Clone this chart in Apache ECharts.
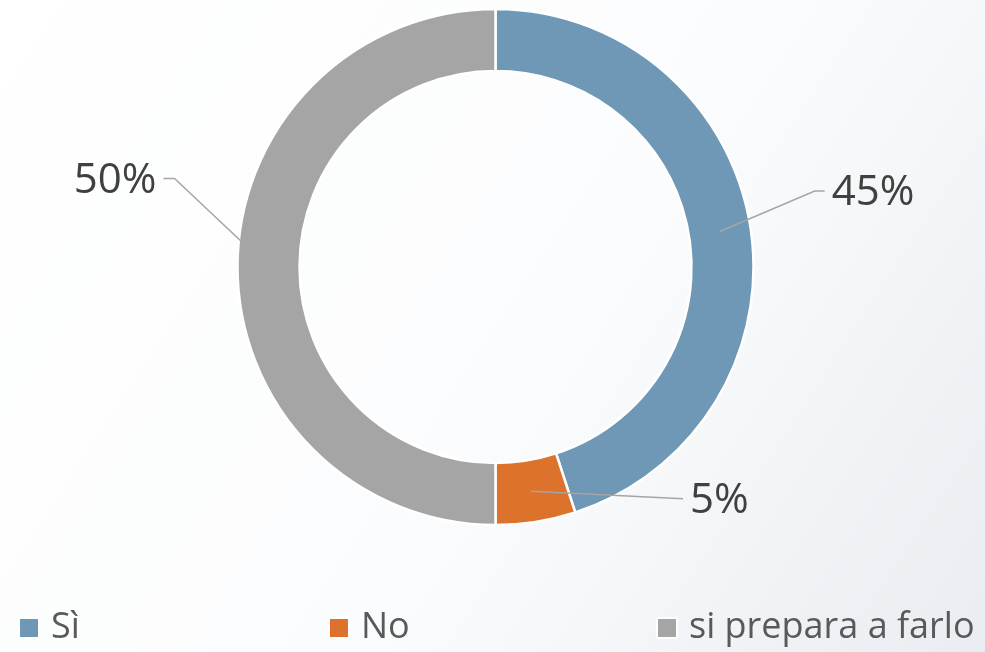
<!DOCTYPE html>
<html>
<head>
<meta charset="utf-8">
<script src="https://cdn.jsdelivr.net/npm/echarts@6/dist/echarts.min.js"></script>
<style>
  html, body { margin: 0; padding: 0; background: #fff; }
  #chart { width: 985px; height: 652px; }
</style>
</head>
<body>
<div id="chart"></div>
<script>
const categories = ['Sì', 'No', 'si prepara a farlo'];
const shares = [45, 5, 50];
const colors = ['#6e98b6', '#dd722c', '#a5a5a5'];

// label placement relative to the leader line start (mid-ring): dx, dy, align, flat tail
const labelOffsets = [
  [112, -38, 'left', 10],
  [159, 10, 'left', 0],
  [-112, -86, 'right', 11]
];
const legendLefts = [18, 328, 656];

const chart = echarts.init(document.getElementById('chart'));

const legends = categories.map((name, i) => ({
  data: [{ name, itemStyle: { color: colors[i] } }],
  left: legendLefts[i],
  bottom: 6,
  padding: 0,
  itemWidth: 20,
  itemHeight: 20,
  icon: 'rect',
  selectedMode: false,
  textStyle: {
    fontFamily: 'Open Sans',
    fontSize: 36,
    color: '#595959',
    padding: [0, 0, 0, 7]
  }
}));

const ring = {
  type: 'pie',
  center: [495.5, 267],
  radius: [196, 258],
  startAngle: 90,
  clockwise: true,
  silent: true
};

chart.setOption({
  backgroundColor: {
    type: 'linear', x: 0, y: 0, x2: 1, y2: 1,
    colorStops: [
      { offset: 0, color: '#ffffff' },
      { offset: 0.55, color: '#fbfcfd' },
      { offset: 1, color: '#e9edf1' }
    ]
  },
  animation: false,
  legend: legends,
  series: [
    Object.assign({}, ring, {
      itemStyle: { borderColor: '#fff', borderWidth: 2.5 },
      label: { show: false },
      labelLine: { show: false },
      data: categories.map((name, i) => ({
        name,
        value: shares[i],
        itemStyle: { color: colors[i] }
      }))
    }),
    // same ring, invisible, drawn on top so the leader lines cross the segments
    Object.assign({}, ring, {
      z: 3,
      itemStyle: { color: 'rgba(0,0,0,0)' },
      label: {
        show: true,
        position: 'outside',
        formatter: p => p.value + '%',
        fontFamily: 'Open Sans',
        fontSize: 42,
        color: '#404040'
      },
      labelLine: {
        show: true,
        lineStyle: { color: '#a5a5a5', width: 1.5 }
      },
      labelLayout: params => {
        const lay = chart.getModel().getSeriesByIndex(1).getData().getItemLayout(params.dataIndex);
        const mid = (lay.startAngle + lay.endAngle) / 2;
        const rMid = (lay.r + lay.r0) / 2;
        const start = [lay.cx + rMid * Math.cos(mid), lay.cy + rMid * Math.sin(mid)];
        const [dx, dy, align, flat] = labelOffsets[params.dataIndex];
        const x = start[0] + dx;
        const y = start[1] + dy;
        const endX = align === 'left' ? x - 7 : x + 7;
        const bendX = align === 'left' ? endX - flat : endX + flat;
        return {
          x, y, align, verticalAlign: 'middle',
          labelLinePoints: [start, [bendX, y - 2.5], [endX, y - 2.5]]
        };
      },
      data: categories.map((name, i) => ({ name, value: shares[i] }))
    })
  ]
});
</script>
</body>
</html>
